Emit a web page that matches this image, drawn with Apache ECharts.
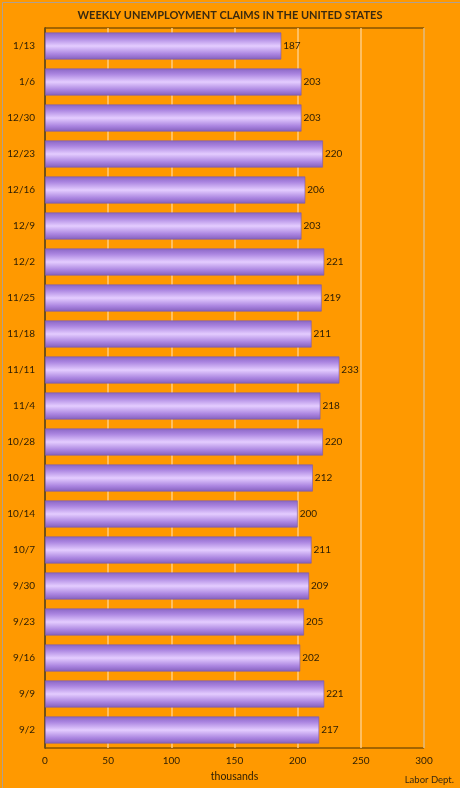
<!DOCTYPE html>
<html>
<head>
<meta charset="utf-8">
<script src="https://cdn.jsdelivr.net/npm/echarts@6/dist/echarts.min.js"></script>
<style>
html,body{margin:0;padding:0;background:#FF9900;}
#c{width:460px;height:788px;}
</style>
</head>
<body>
<div id="c"></div>
<script>
const categories = ['1/13','1/6','12/30','12/23','12/16','12/9','12/2','11/25','11/18','11/11','11/4','10/28','10/21','10/14','10/7','9/30','9/23','9/16','9/9','9/2'];
const claims = [187,203,203,220,206,203,221,219,211,233,218,220,212,200,211,209,205,202,221,217];
const xTicks = [0,50,100,150,200,250,300];

const chart = echarts.init(document.getElementById('c'));
const font = 'Lato, "Open Sans", sans-serif';
const textColor = '#2b1d05';
chart.setOption({
  backgroundColor: '#FF9900',
  animation: false,
  title: {
    text: 'WEEKLY UNEMPLOYMENT CLAIMS IN THE UNITED STATES',
    left: 'center', top: 5,
    textStyle: {fontFamily: font, fontSize: 11, fontWeight: 'bold', color: '#3a2a10'}
  },
  grid: {left: 45, right: 36, top: 28, bottom: 40, show: true, borderColor: '#4a3000', borderWidth: 1, backgroundColor: 'transparent'},
  xAxis: {
    type: 'value', min: xTicks[0], max: xTicks[xTicks.length-1], interval: 50,
    name: 'thousands', nameLocation: 'middle', nameGap: 22,
    nameTextStyle: {fontFamily: font, fontSize: 10.5, color: textColor},
    axisLine: {show: false}, axisTick: {show: false},
    axisLabel: {fontFamily: font, fontSize: 10, color: textColor, margin: 8},
    splitLine: {show: true, lineStyle: {color: '#ffcc80', width: 1.5}}
  },
  yAxis: {
    type: 'category', data: categories, inverse: true,
    axisLine: {show: true, lineStyle: {color: '#4a3000', width: 1.5}},
    axisTick: {show: false},
    axisLabel: {fontFamily: font, fontSize: 10, color: textColor, margin: 10},
    splitLine: {show: false}
  },
  series: [{
    type: 'bar', data: claims, barCategoryGap: '25%',
    itemStyle: {
      borderColor: '#7a5ab0', borderWidth: 0.6,
      color: new echarts.graphic.LinearGradient(0,0,0,1,[
        {offset: 0, color: '#8a66c4'},
        {offset: 0.2, color: '#aa84e0'},
        {offset: 0.5, color: '#e4ccff'},
        {offset: 0.8, color: '#aa84e0'},
        {offset: 1, color: '#8460bc'}
      ])
    },
    label: {show: true, position: 'right', distance: 2, fontFamily: font, fontSize: 10, color: textColor}
  }],
  graphic: [
    {type: 'text', right: 6, bottom: 3, style: {text: 'Labor Dept.', fontFamily: font, fontSize: 9.5, fill: '#3a2a10'}},
    {type: 'rect', left: 0, top: 0, shape: {x: 0.5, y: 0.5, width: 459, height: 787}, style: {fill: 'none', stroke: '#b0a090', lineWidth: 1}, silent: true}
  ]
});
</script>
</body>
</html>
